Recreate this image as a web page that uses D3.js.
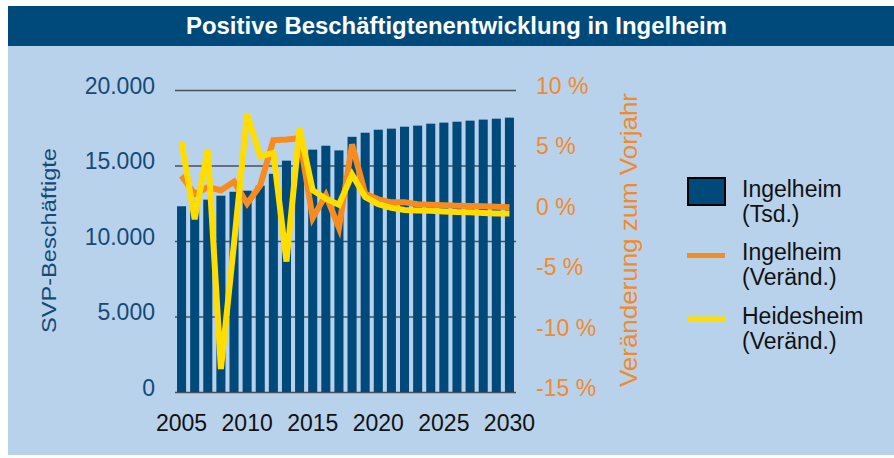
<!DOCTYPE html>
<html>
<head>
<meta charset="utf-8">
<script src="https://cdn.jsdelivr.net/npm/d3@7"></script>
<style>
  html, body { margin: 0; padding: 0; background: #ffffff; }
  svg { display: block; font-family: "Liberation Sans", Arial, Helvetica, sans-serif; }
</style>
</head>
<body>
<svg id="chart" width="894" height="458"></svg>
<script>
// ---------------- data ----------------
const years = [2005, 2006, 2007, 2008, 2009, 2010, 2011, 2012, 2013, 2014,
               2015, 2016, 2017, 2018, 2019, 2020, 2021, 2022, 2023, 2024,
               2025, 2026, 2027, 2028, 2029, 2030];
const employeesIngelheim = [12300, 12620, 12740, 13000, 13260, 13330, 13660, 14450, 15320, 15700,
                            16050, 16310, 16000, 16900, 17170, 17370, 17440, 17570, 17640, 17770,
                            17840, 17900, 17970, 18040, 18100, 18170];
const changeIngelheim = [2.9, 1.4, 1.95, 1.7, 2.4, 0.6, 2.1, 5.85, 5.9, 6.0,
                         -0.6, 1.3, -1.4, 5.5, 1.4, 0.95, 0.7, 0.7, 0.55, 0.5,
                         0.45, 0.42, 0.4, 0.37, 0.34, 0.3];
const changeHeidesheim = [5.7, -0.7, 5.1, -13.1, -2.7, 8.0, 4.5, 4.8, -4.2, 6.8,
                          1.7, 1.0, 0.5, 3.0, 1.15, 0.55, 0.25, 0.07, 0.03, 0.0,
                          -0.05, -0.1, -0.12, -0.18, -0.22, -0.22];
const leftTicks = [0, 5000, 10000, 15000, 20000];
const rightTicks = [10, 5, 0, -5, -10, -15];
const xTickYears = [2005, 2010, 2015, 2020, 2025, 2030];
const legendItems = [
  {type: "bar", lines: ["Ingelheim", "(Tsd.)"]},
  {type: "orange", lines: ["Ingelheim", "(Veränd.)"]},
  {type: "yellow", lines: ["Heidesheim", "(Veränd.)"]}
];
const titleText = "Positive Beschäftigtenentwicklung in Ingelheim";

// ---------------- style ----------------
const C = {
  titleBg: "#004a7b",
  panel: "#b8d2eb",
  bar: "#004a7b",
  orange: "#f68b1f",
  yellow: "#ffdd00",
  grid: "#4a4f55",
  leftText: "#134a78",
  rightText: "#f18a2a"
};

const svg = d3.select("#chart");

// background
svg.append("rect").attr("x", 8).attr("y", 46).attr("width", 886).attr("height", 409).attr("fill", C.panel);
svg.append("rect").attr("x", 8).attr("y", 6).attr("width", 886).attr("height", 40).attr("fill", C.titleBg);
svg.append("text")
  .attr("x", 456.5).attr("y", 34)
  .attr("text-anchor", "middle")
  .attr("font-size", 23).attr("font-weight", "bold")
  .attr("fill", "#ffffff")
  .attr("textLength", 541).attr("lengthAdjust", "spacingAndGlyphs")
  .text(titleText);

// scales
const plot = {left: 175, right: 516, top: 90, bottom: 392};
const x = d3.scaleBand().domain(years).range([plot.left, plot.right]).paddingInner(0.31).paddingOuter(0.155);
const yL = d3.scaleLinear().domain([0, 20000]).range([plot.bottom, plot.top]);
const yR = d3.scaleLinear().domain([-15, 10]).range([plot.bottom, plot.top]);

const loc = d3.formatLocale({decimal: ",", thousands: ".", grouping: [3], currency: ["", "€"]});
const fmtL = loc.format(",");

// left axis with gridlines
const gL = svg.append("g").attr("transform", `translate(${plot.left},0)`)
  .call(d3.axisLeft(yL).tickValues(leftTicks).tickSize(-(plot.right - plot.left)).tickPadding(20).tickFormat(fmtL));
gL.select(".domain").remove();
gL.selectAll(".tick line").attr("stroke", C.grid).attr("stroke-width", 1.5);
gL.selectAll(".tick text").attr("font-size", 23).attr("fill", C.leftText).attr("dy", "0.15em")
  .attr("font-family", "Liberation Sans, Arial, sans-serif");

// right axis
const gR = svg.append("g").attr("transform", `translate(${plot.right},0)`)
  .call(d3.axisRight(yR).tickValues(rightTicks).tickSize(0).tickPadding(20).tickFormat(d => d + " %"));
gR.select(".domain").remove();
gR.selectAll(".tick text").attr("font-size", 23).attr("fill", C.rightText).attr("dy", "0.15em")
  .attr("font-family", "Liberation Sans, Arial, sans-serif");

// x axis
const gX = svg.append("g").attr("transform", `translate(0,${plot.bottom})`)
  .call(d3.axisBottom(x).tickValues(xTickYears).tickSize(0).tickPadding(22.7));
gX.select(".domain").remove();
gX.selectAll(".tick text").attr("font-size", 23).attr("fill", "#111111")
  .attr("font-family", "Liberation Sans, Arial, sans-serif");

// bars
svg.append("g").selectAll("rect").data(years).join("rect")
  .attr("x", d => x(d))
  .attr("width", x.bandwidth())
  .attr("y", (d, i) => yL(employeesIngelheim[i]))
  .attr("height", (d, i) => yL(0) - yL(employeesIngelheim[i]))
  .attr("fill", C.bar);

// lines
const cx = d => x(d) + x.bandwidth() / 2;
const lineGen = vals => d3.line().x((d) => cx(d)).y((d, i) => yR(vals[i]))(years);
svg.append("path").attr("d", lineGen(changeIngelheim))
  .attr("fill", "none").attr("stroke", C.orange).attr("stroke-width", 6).attr("stroke-linejoin", "miter");
svg.append("path").attr("d", lineGen(changeHeidesheim))
  .attr("fill", "none").attr("stroke", C.yellow).attr("stroke-width", 6).attr("stroke-linejoin", "miter");

// axis titles
svg.append("text")
  .attr("transform", "translate(56,240.5) rotate(-90)")
  .attr("text-anchor", "middle").attr("font-size", 21).attr("fill", C.leftText)
  .attr("textLength", 185).attr("lengthAdjust", "spacingAndGlyphs")
  .text("SVP-Beschäftigte");
svg.append("text")
  .attr("transform", "translate(637,240) rotate(-90)")
  .attr("text-anchor", "middle").attr("font-size", 24).attr("fill", C.rightText)
  .attr("textLength", 294).attr("lengthAdjust", "spacingAndGlyphs")
  .text("Veränderung zum Vorjahr");

// legend
const leg = svg.append("g");
legendItems.forEach((item, k) => {
  const g = leg.append("g");
  if (item.type === "bar") {
    g.append("rect").attr("x", 688).attr("y", 178).attr("width", 37).attr("height", 27)
      .attr("fill", C.bar).attr("stroke", "#000000").attr("stroke-width", 2);
  } else {
    const yy = item.type === "orange" ? 255.5 : 319;
    g.append("line").attr("x1", 687).attr("x2", 725).attr("y1", yy).attr("y2", yy)
      .attr("stroke", item.type === "orange" ? C.orange : C.yellow).attr("stroke-width", 5);
  }
  const base = [197, 260, 324][k];
  item.lines.forEach((t, j) => {
    g.append("text").attr("x", 742).attr("y", base + j * 25)
      .attr("font-size", 23).attr("fill", "#111111").text(t);
  });
});
</script>
</body>
</html>
